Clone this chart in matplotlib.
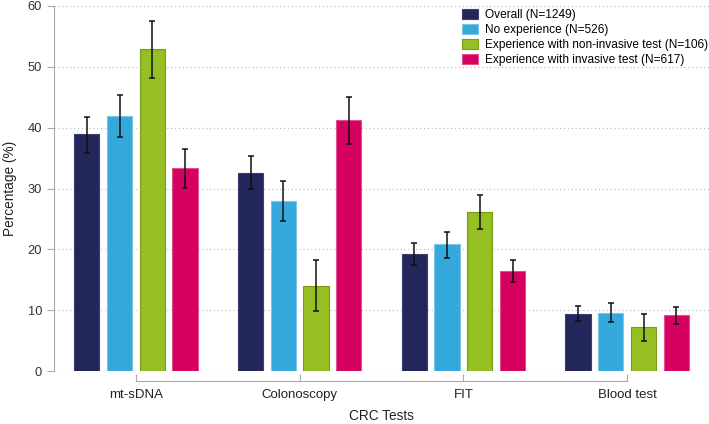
import numpy as np
import matplotlib
matplotlib.use("Agg")
import matplotlib.pyplot as plt

plt.rcParams["font.family"] = ["Liberation Sans", "DejaVu Sans"]

tests = ["mt-sDNA", "Colonoscopy", "FIT", "Blood test"]
groups = [
    "Overall (N=1249)",
    "No experience (N=526)",
    "Experience with non-invasive test (N=106)",
    "Experience with invasive test (N=617)",
]
colors = ["#22265a", "#35a8dc", "#95bf22", "#d5005f"]
edges = ["#3a3f70", "#7cc4e8", "#7a9a1a", "#e0508a"]

# percentages per group, order of tests
overall = [38.9, 32.6, 19.3, 9.4]
no_exp = [42.0, 28.0, 20.8, 9.6]
non_inv = [52.9, 14.0, 26.1, 7.2]
invasive = [33.3, 41.2, 16.5, 9.2]

# confidence intervals (low, high)
overall_lo = [35.9, 29.9, 17.4, 8.2]
overall_hi = [41.8, 35.4, 21.1, 10.7]
no_exp_lo = [38.5, 24.6, 18.6, 8.0]
no_exp_hi = [45.4, 31.2, 22.8, 11.1]
non_inv_lo = [48.2, 9.8, 23.3, 4.9]
non_inv_hi = [57.6, 18.2, 28.9, 9.3]
invasive_lo = [30.1, 37.3, 14.6, 7.7]
invasive_hi = [36.5, 45.0, 18.3, 10.6]

values = [overall, no_exp, non_inv, invasive]
lows = [overall_lo, no_exp_lo, non_inv_lo, invasive_lo]
highs = [overall_hi, no_exp_hi, non_inv_hi, invasive_hi]

fig = plt.figure(figsize=(7.09, 4.24), dpi=100)
ax = fig.add_axes([54 / 709, 53 / 424, 655 / 709, 365 / 424])

x = np.arange(len(tests))
step = 0.2
width = 0.153
for i in range(4):
    v = np.array(values[i])
    err = [v - np.array(lows[i]), np.array(highs[i]) - v]
    pos = x + (i - 1.5) * step
    ax.bar(pos, v, width, color=colors[i], edgecolor=edges[i], linewidth=0.8,
           label=groups[i], zorder=2)
    ax.errorbar(pos, v, yerr=err, fmt="none", ecolor="#111111", elinewidth=1.1,
                capsize=2.5, capthick=1.1, zorder=3)

ax.set_xlim(-0.5, 3.5)
ax.set_ylim(0, 60)
ax.set_yticks(np.arange(0, 61, 10))
ax.set_xticks(x)
ax.set_xticklabels(tests)
ax.yaxis.grid(True, linestyle=(0, (1, 2.5)), color="#bbbbbb", linewidth=0.8, zorder=0)
ax.set_axisbelow(True)

for s in ["top", "right"]:
    ax.spines[s].set_visible(False)
ax.spines["left"].set_color("#aaaaaa")
ax.spines["bottom"].set_color("#aaaaaa")
ax.spines["bottom"].set_position(("outward", 7))
ax.spines["bottom"].set_bounds(0, 3)
ax.tick_params(axis="y", direction="out", length=5, color="#aaaaaa",
               labelsize=9.3, labelcolor="#333333")
ax.tick_params(axis="x", direction="in", length=5, color="#aaaaaa",
               labelsize=9.5, labelcolor="#222222", pad=6)

ax.set_ylabel("Percentage (%)", fontsize=9.8, color="#222222", labelpad=8)
ax.set_xlabel("CRC Tests", fontsize=9.8, color="#222222", labelpad=6)

ax.legend(loc="upper left", bbox_to_anchor=(0.615, 1.005), frameon=False,
          fontsize=8.6, handlelength=1.4, handleheight=0.85, labelspacing=0.25,
          handletextpad=0.6, borderaxespad=0)

fig.savefig("out.png", dpi=100)
